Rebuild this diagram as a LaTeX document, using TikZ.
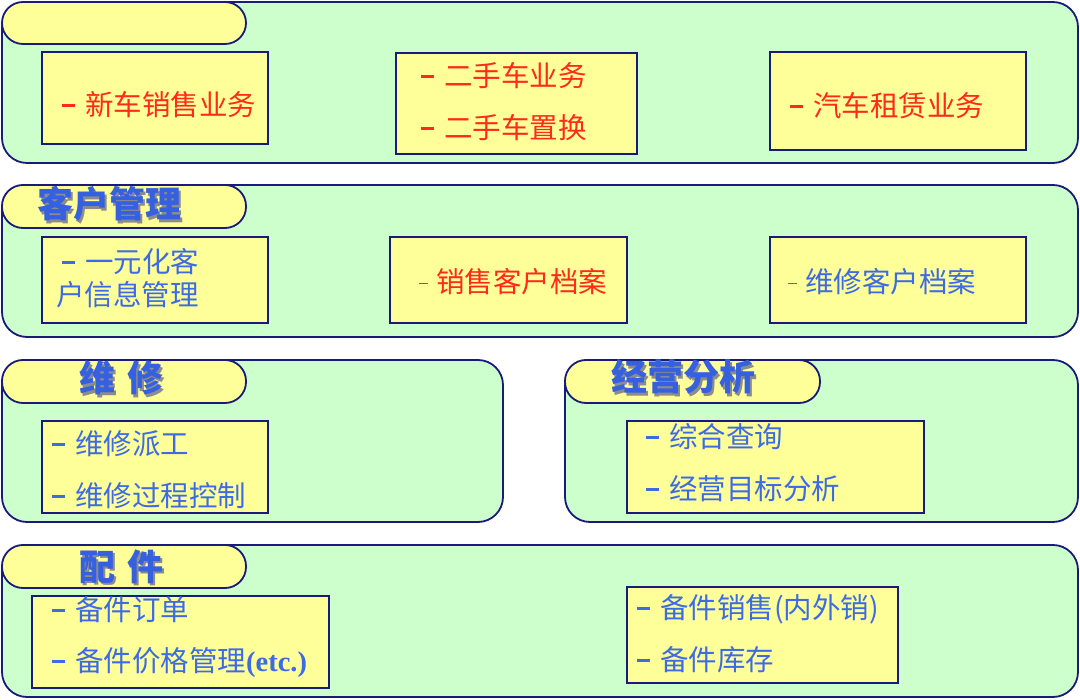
\documentclass[tikz,border=0pt]{standalone}
\usepackage{fontspec}
\setmainfont{Noto Sans CJK SC}
\newfontfamily\serifb{Liberation Serif}
\definecolor{grn}{HTML}{CCFFCC}
\definecolor{ylw}{HTML}{FFFF99}
\definecolor{nvy}{HTML}{1A1A7A}
\definecolor{rd}{HTML}{FF2A1A}
\definecolor{bl}{HTML}{3D6BE6}
\definecolor{hbl}{HTML}{3560E0}
\definecolor{shd}{HTML}{8C8C8C}
\newcommand{\dsh}{\rule[0.3em]{13pt}{3pt}\hspace{10pt}}
\newcommand{\hyp}{\rule[0.3em]{9pt}{1.6pt}\hspace{8pt}}
\newcommand{\shadowed}[1]{\makebox[0pt][l]{\hspace{2.5pt}\raisebox{-2.5pt}{\textcolor{shd}{#1}}}#1}
\tikzset{
  panel/.style={draw=nvy, fill=grn, line width=1.8pt, rounded corners=25pt},
  pill/.style={draw=nvy, fill=ylw, line width=1.8pt, rounded corners=21pt},
  item/.style={draw=nvy, fill=ylw, line width=1.8pt},
  txt/.style={anchor=west, inner sep=0pt, font=\fontsize{28.5}{32}\selectfont},
  rtxt/.style={txt, text=rd},
  btxt/.style={txt, text=bl},
  htxt/.style={anchor=west, inner sep=0pt, font=\fontsize{36}{40}\selectfont\bfseries, text=hbl}
}
\begin{document}
\begin{tikzpicture}[x=1pt,y=-1pt]
\useasboundingbox (0,0) rectangle (1080,700);
% panels
\draw[panel] (2,2) rectangle (1078,163);
\draw[panel] (2,185) rectangle (1078,337);
\draw[panel] (2,360) rectangle (503,522);
\draw[panel] (565,360) rectangle (1078,522);
\draw[panel] (2,545) rectangle (1078,697);
% pills
\draw[pill] (2,2) rectangle (246,44);
\draw[pill] (2,185) rectangle (246,228);
\draw[pill] (2,360) rectangle (246,403);
\draw[pill] (565,360) rectangle (820,403);
\draw[pill] (2,545) rectangle (246,588);
% header texts
\node[htxt] (h2) at (37,205) {\shadowed{客户管理}};
\node[htxt] (h3) at (79,379) {\shadowed{维\,\,修}};
\node[htxt] (h4) at (611,378) {\shadowed{经营分析}};
\node[htxt] (h5) at (79,568) {\shadowed{配\,\,件}};
% item boxes
\draw[item] (42,52) rectangle (268,144);
\draw[item] (396,53) rectangle (637,154);
\draw[item] (770,52) rectangle (1026,150);
\draw[item] (42,237) rectangle (268,323);
\draw[item] (390,237) rectangle (627,323);
\draw[item] (770,237) rectangle (1026,323);
\draw[item] (42,421) rectangle (268,513);
\draw[item] (627,421) rectangle (924,513);
\draw[item] (32,596) rectangle (329,688);
\draw[item] (627,587) rectangle (898,683);
% texts
\node[rtxt] (t1) at (62,105) {\dsh 新车销售业务};
\node[rtxt] (t2) at (421,76) {\dsh 二手车业务};
\node[rtxt] (t3) at (421,128) {\dsh 二手车置换};
\node[rtxt] (t4) at (790,106) {\dsh 汽车租赁业务};
\node[btxt] (t5) at (62,262) {\dsh 一元化客};
\node[btxt] (t6) at (56,295) {户信息管理};
\node[rtxt] (t7) at (419,282) {\hyp 销售客户档案};
\node[btxt] (t8) at (788,282) {\hyp 维修客户档案};
\node[btxt] (t9) at (52,444) {\dsh 维修派工};
\node[btxt] (t10) at (52,496) {\dsh 维修过程控制};
\node[btxt] (t11) at (646,437) {\dsh 综合查询};
\node[btxt] (t12) at (646,489) {\dsh 经营目标分析};
\node[btxt] (t13) at (52,610) {\dsh 备件订单};
\node[btxt] (t14) at (52,663) {\dsh 备件价格管理{\serifb\bfseries(etc.)}};
\node[btxt] (t15) at (637,609) {\dsh 备件销售(内外销)};
\node[btxt] (t16) at (637,660) {\dsh 备件库存};
\end{tikzpicture}
\end{document}
